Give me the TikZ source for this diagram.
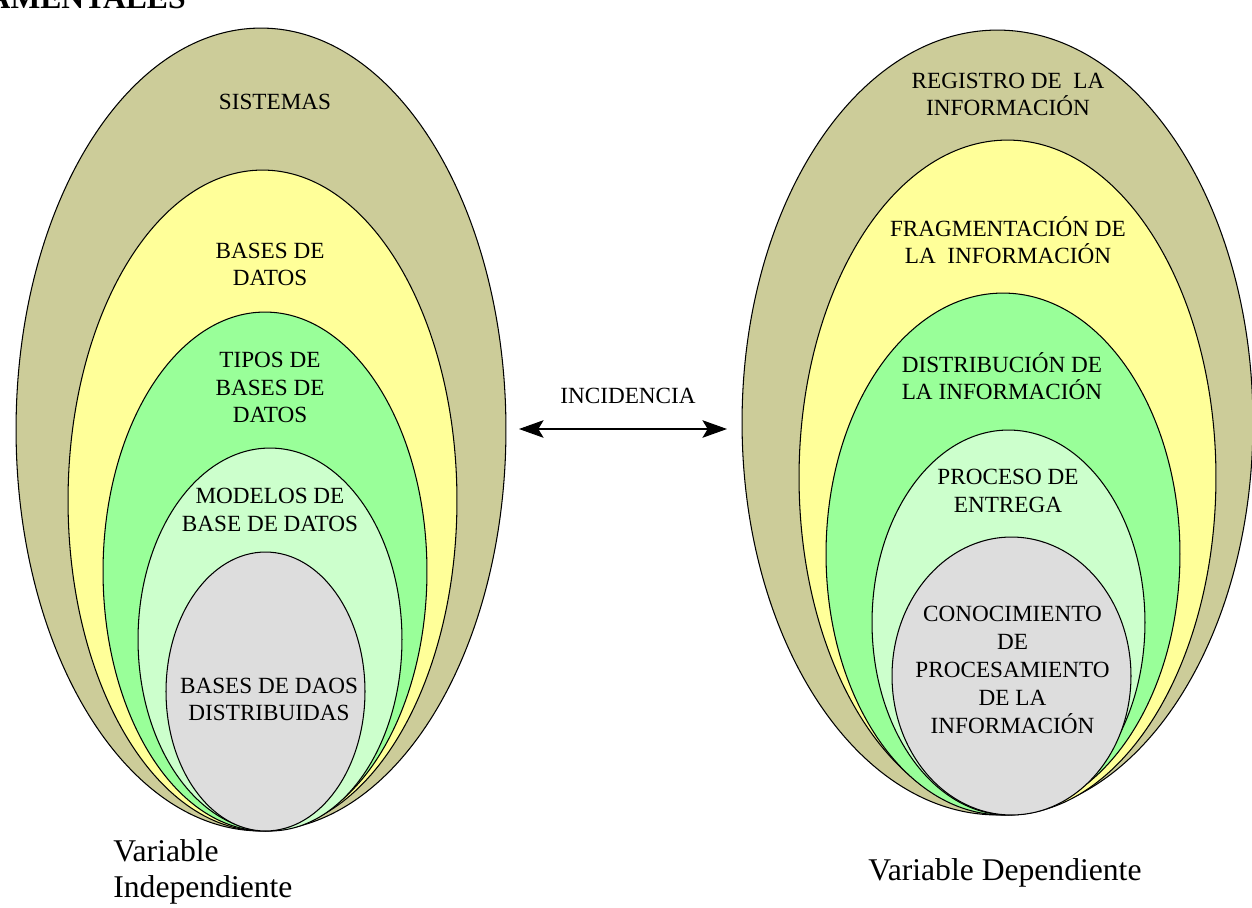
\documentclass[tikz,border=0pt]{standalone}
\usepackage{fontspec}
\setmainfont{Liberation Serif}
\usetikzlibrary{shapes.geometric,arrows.meta}

\definecolor{oliva}{HTML}{CCCC99}
\definecolor{amarillo}{HTML}{FFFF99}
\definecolor{verde}{HTML}{99FF99}
\definecolor{verdeclaro}{HTML}{CCFFCC}
\definecolor{gris}{HTML}{DDDDDD}

\begin{document}
\begin{tikzpicture}[x=0.02cm, y=-0.02cm,
    capa/.style={ellipse, draw, line width=0.6pt, inner sep=0pt},
    txt/.style={align=center, inner sep=0pt, font=\fontsize{13.2}{15.5}\selectfont}]
    \useasboundingbox (0,0) rectangle (1252,907);

    % Variable independiente
    \node (sis) [capa, fill=oliva, minimum width=9.8cm, minimum height=16.06cm] at (261,429.5) {};
    \node (bd) [capa, fill=amarillo, minimum width=7.78cm, minimum height=13.22cm] at (262.5,500.5) {};
    \node (tipos) [capa, fill=verde, minimum width=6.48cm, minimum height=10.38cm] at (265,571.5) {};
    \node (mod) [capa, fill=verdeclaro, minimum width=5.28cm, minimum height=7.66cm] at (270,639.5) {};
    \node (dist) [capa, fill=gris, minimum width=3.98cm, minimum height=5.58cm] at (265.5,691.5) {};

    \node (tsis) [txt] at (275,102) {SISTEMAS};
    \node (tbd) [txt] at (270,264.5) {BASES DE\\DATOS};
    \node (ttipos) [txt] at (270,387.5) {TIPOS DE\\BASES DE\\DATOS};
    \node (tmod) [txt] at (270,510) {MODELOS DE\\BASE DE DATOS};
    \node (tdist) [txt] at (269,699.5) {BASES DE DAOS\\DISTRIBUIDAS};

    % Variable dependiente
    \node (reg) [capa, fill=oliva, minimum width=10.22cm, minimum height=15.7cm] at (997.5,422.5) {};
    \node (frag) [capa, fill=amarillo, minimum width=8.34cm, minimum height=13.5cm] at (1007.5,477.5) {};
    \node (distr) [capa, fill=verde, minimum width=7.08cm, minimum height=10.44cm] at (1003,554) {};
    \node (ent) [capa, fill=verdeclaro, minimum width=5.46cm, minimum height=7.7cm] at (1008.5,622.5) {};
    \node (con) [capa, fill=gris, minimum width=4.78cm, minimum height=5.56cm] at (1011.5,676) {};

    \node (treg) [txt] at (1008,94.5) {REGISTRO DE\ \ LA\\INFORMACIÓN};
    \node (tfrag) [txt] at (1008,240) {FRAGMENTACIÓN DE\\LA\ \ INFORMACIÓN};
    \node (tdistr) [txt] at (1002,376) {DISTRIBUCIÓN DE\\LA INFORMACIÓN};
    \node (tent) [txt] at (1008,491) {PROCESO DE\\ENTREGA};
    \node (tcon) [txt, font=\fontsize{13.2}{16}\selectfont] at (1012.5,670) {CONOCIMIENTO\\DE\\PROCESAMIENTO\\DE LA\\INFORMACIÓN};

    % Titulos
    \node (titulo) [anchor=base east, inner sep=0pt, font=\fontsize{18}{20}\selectfont\bfseries] at (186,8) {AMENTALES};
    \node (inc) [txt] at (628,396) {INCIDENCIA};
    \node (vi) [anchor=north west, align=left, inner sep=0pt, font=\fontsize{18}{20.5}\selectfont] at (113,839) {Variable\\Independiente};
    \node (vd) [anchor=north, inner sep=0pt, font=\fontsize{18}{20.5}\selectfont] at (1005,858) {Variable Dependiente};

    % Arrows
    \coordinate (izq) at (519,429);
    \coordinate (der) at (727,429);
    \draw [<->, >={Stealth[length=14pt, width=10pt, inset=3pt]}, line width=0.6pt] (izq) -- (der);
\end{tikzpicture}
\end{document}
